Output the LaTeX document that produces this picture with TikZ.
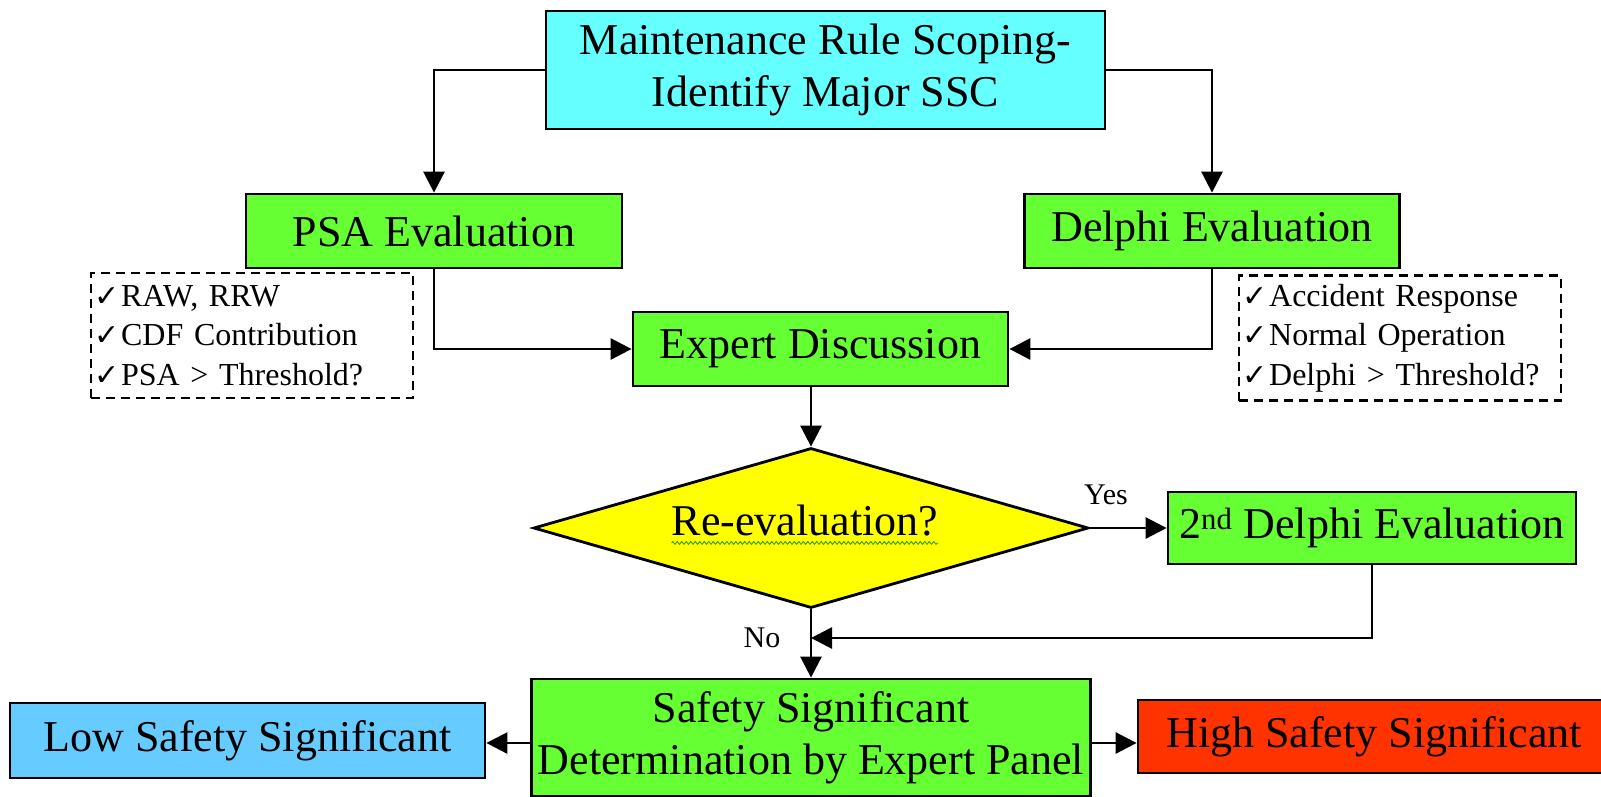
\documentclass[tikz,border=0pt]{standalone}
\usepackage{fontspec}
\setmainfont{Liberation Serif}
\newfontfamily\symfont{DejaVu Sans}
\usetikzlibrary{shapes.geometric,arrows.meta,decorations.pathmorphing}

\definecolor{topcyan}{HTML}{66FFFF}
\definecolor{boxgreen}{HTML}{66FF33}
\definecolor{diayellow}{HTML}{FFFF00}
\definecolor{lowblue}{HTML}{66CCFF}
\definecolor{highred}{HTML}{FF3300}
\definecolor{squiggle}{HTML}{33A000}

% check mark used in the criteria lists
\newcommand{\ck}{{\symfont\fontsize{30}{30}\selectfont ✓}\hspace{2pt}}

\begin{document}
\begin{tikzpicture}[x=1pt,y=-1pt,
  every node/.style={inner sep=0pt},
  box/.style={draw=black, line width=2.8pt, align=center,
    font=\fontsize{44}{52}\selectfont},
  note/.style={draw=black, line width=2.2pt, dash pattern=on 9pt off 6pt,
    align=left, inner xsep=3pt, text width=316pt, minimum height=125pt,
    font=\fontsize{32}{39.5}\selectfont},
  arr/.style={line width=2.8pt, -{Triangle[length=21pt,width=21pt]}},
  lbl/.style={font=\fontsize{30}{30}\selectfont},
]
\useasboundingbox (0,0) rectangle (1601,796);

% process boxes
\node[box, fill=topcyan, minimum width=559pt, minimum height=118pt] (top) at (825.5,70)
  {Maintenance Rule Scoping-\\Identify Major SSC};
\node[box, fill=boxgreen, minimum width=376pt, minimum height=74pt] (psa) at (434,231) {PSA Evaluation};
\node[box, fill=boxgreen, minimum width=375pt, minimum height=74pt] (delphi) at (1212,231) {Delphi Evaluation};
\node[box, fill=boxgreen, minimum width=375pt, minimum height=74pt] (expert) at (820.5,349) {Expert Discussion};

% criteria lists
\node[note] (psanote) at (252,335.5)
  {\ck RAW, RRW\\ \ck CDF Contribution\\ \ck PSA > Threshold?};
\node[note] (delnote) at (1400,338)
  {\ck Accident Response\\ \ck Normal Operation\\ \ck Delphi > Threshold?};

% decision
\node[draw=black, line width=2.8pt, fill=diayellow, shape=diamond,
  minimum width=555pt, minimum height=160pt] (dia) at (811,528) {};
\node[font=\fontsize{44}{52}\selectfont] (q) at (805,521) {Re-evaluation?};
\draw[squiggle, line width=0.9pt, decorate,
  decoration={zigzag, amplitude=1.4pt, segment length=4.5pt}]
  ([yshift=-7pt]q.base west) -- ([yshift=-7pt]q.base east);

\node[box, fill=boxgreen, minimum width=408pt, minimum height=72pt] (del2) at (1372,528)
  {2\textsuperscript{nd} Delphi Evaluation};

% outcome boxes
\node[box, fill=boxgreen, minimum width=559pt, minimum height=117pt] (safety) at (811,737.5)
  {Safety Significant\\Determination by Expert Panel};
\node[box, fill=lowblue, minimum width=475pt, minimum height=75pt] (low) at (247.5,740.5)
  {Low Safety Significant};
\node[box, fill=highred, minimum width=472pt, minimum height=73pt] (high) at (1374,736.5)
  {High Safety Significant};

% labels
\node[lbl] (yes) at (1106,495) {Yes};
\node[lbl] (no) at (762,638) {No};

% connectors
\draw[arr] (top.west) -| (psa.north);
\draw[arr] (top.east) -| (delphi.north);
\draw[arr] (psa.south) |- (expert.west);
\draw[arr] (delphi.south) |- (expert.east);
\draw[arr] (expert.south -| dia.north) -- (dia.north);
\draw[arr] (dia.east) -- (del2.west);
\draw[arr] (dia.south) -- (safety.north);
\coordinate (join) at (811,638);
\draw[arr] (del2.south) |- (join);
\coordinate (lvl) at (0,743);
\draw[arr] (safety.west |- lvl) -- (low.east |- lvl);
\draw[arr] (safety.east |- lvl) -- (high.west |- lvl);
\end{tikzpicture}
\end{document}
